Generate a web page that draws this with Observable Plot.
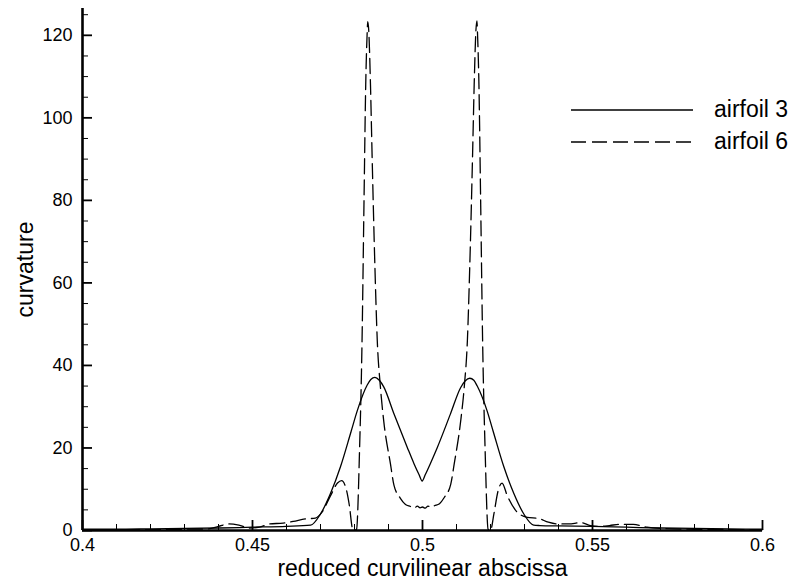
<!DOCTYPE html>
<html>
<head>
<meta charset="utf-8">
<script src="https://cdn.jsdelivr.net/npm/d3@7"></script>
<script src="https://cdn.jsdelivr.net/npm/@observablehq/plot@0.6"></script>
<style>
  html, body { margin: 0; padding: 0; background: #fff; }
  #wrap { position: relative; width: 804px; height: 585px; font-family: "Liberation Sans", Arial, sans-serif; }
  #legend { position: absolute; left: 571px; top: 96px; font-size: 23px; color: #000; }
  .row { position: relative; height: 32px; }
  .row svg { position: absolute; left: 0; top: 0; }
  .row span { position: absolute; left: 143px; top: 0px; line-height: 27px; white-space: nowrap; }
</style>
</head>
<body>
<div id="wrap">
  <div id="chart"></div>
  <div id="legend"></div>
</div>
<script>
// ---- data ----
const seriesNames = ["airfoil 3", "airfoil 6"];

const xAirfoil3 = [0.400, 0.410, 0.420, 0.430, 0.440, 0.450, 0.460, 0.4671, 0.4700, 0.4729, 0.4759, 0.4790, 0.4808, 0.4837, 0.4848, 0.4860, 0.4873, 0.4886, 0.4916, 0.4955, 0.4975, 0.4990, 0.4999, 0.5008, 0.5023, 0.5043, 0.5082, 0.5112, 0.5126, 0.5139, 0.5151, 0.5161, 0.5190, 0.5208, 0.5239, 0.5269, 0.5298, 0.5327, 0.5345, 0.540, 0.550, 0.560, 0.570, 0.580, 0.590, 0.600];
const yAirfoil3 = [0.3, 0.3, 0.4, 0.5, 0.6, 0.8, 1.0, 1.3, 4.0, 8.9, 15.5, 24.0, 29.0, 35.2, 36.6, 37.1, 36.4, 34.8, 28.3, 20.2, 16.2, 13.5, 12.0, 13.5, 16.2, 20.0, 28.2, 34.6, 36.3, 36.9, 36.4, 35.0, 29.0, 24.0, 15.5, 8.9, 4.0, 1.3, 1.2, 1.1, 1.0, 0.8, 0.6, 0.5, 0.4, 0.3];

const xAirfoil6 = [0.400, 0.415, 0.430, 0.437, 0.440, 0.443, 0.446, 0.449, 0.452, 0.455, 0.459, 0.462, 0.4655, 0.4685, 0.4705, 0.4730, 0.4750, 0.4762, 0.4774, 0.4785, 0.4794, 0.4800, 0.4806, 0.4815, 0.4822, 0.4828, 0.4833, 0.4837, 0.4839, 0.4842, 0.4847, 0.4852, 0.4860, 0.4867, 0.4876, 0.4886, 0.4906, 0.4916, 0.4935, 0.4950, 0.4965, 0.4975, 0.4985, 0.4993, 0.5000, 0.5008, 0.5016, 0.5025, 0.5035, 0.5050, 0.5064, 0.5083, 0.5093, 0.5113, 0.5123, 0.5132, 0.5139, 0.5147, 0.5152, 0.5157, 0.5160, 0.5162, 0.5166, 0.5171, 0.5177, 0.5184, 0.5193, 0.5200, 0.5210, 0.5222, 0.5234, 0.5249, 0.5279, 0.5308, 0.5342, 0.5370, 0.5396, 0.5430, 0.5465, 0.5494, 0.552, 0.555, 0.558, 0.562, 0.566, 0.570, 0.580, 0.600];
const yAirfoil6 = [0.2, 0.2, 0.3, 0.4, 1.0, 1.6, 1.3, 0.6, 0.8, 1.6, 1.8, 2.2, 2.8, 3.0, 4.5, 8.5, 11.5, 12.1, 10.5, 6.0, 0.5, 0.0, 0.3, 20, 45, 80, 108, 120, 123.3, 121, 108, 90, 64, 46, 35, 26.5, 16, 11, 7.8, 6.3, 5.8, 5.4, 5.9, 5.5, 5.7, 5.4, 5.9, 5.6, 6.0, 6.5, 8.0, 11.2, 16, 27, 35, 46, 64, 90, 108, 121, 123.5, 120, 108, 80, 45, 20, 0.3, 0.0, 4.0, 9.5, 11.5, 8.5, 4.4, 3.2, 2.9, 2.0, 1.6, 1.6, 1.9, 1.2, 1.0, 1.2, 1.5, 1.5, 0.8, 0.5, 0.3, 0.2];

const xTicks = [0.4, 0.45, 0.5, 0.55, 0.6];
const xMinorTicks = [0.41, 0.42, 0.43, 0.44, 0.46, 0.47, 0.48, 0.49, 0.51, 0.52, 0.53, 0.54, 0.56, 0.57, 0.58, 0.59];
const yTicks = [0, 20, 40, 60, 80, 100, 120];
const yMinorTicks = [5, 10, 15, 25, 30, 35, 45, 50, 55, 65, 70, 75, 85, 90, 95, 105, 110, 115, 125];
const xTitle = "reduced curvilinear abscissa";
const yTitle = "curvature";

// ---- build tables ----
const a3 = xAirfoil3.map((x, i) => ({x, y: yAirfoil3[i]}));
const a6 = xAirfoil6.map((x, i) => ({x, y: yAirfoil6[i]}));
const dash = "15,6";

const chart = Plot.plot({
  width: 804,
  height: 585,
  marginLeft: 82,
  marginRight: 42,
  marginTop: 8,
  marginBottom: 55,
  style: {fontFamily: "'Liberation Sans', Arial, sans-serif", fontSize: "18px", color: "#000", background: "#fff"},
  x: {domain: [0.4, 0.6]},
  y: {domain: [0, 126.5]},
  marks: [
    Plot.line(a3, {x: "x", y: "y", stroke: "#000", strokeWidth: 1.3, curve: "monotone-x"}),
    Plot.line(a6, {x: "x", y: "y", stroke: "#000", strokeWidth: 1.3, strokeDasharray: dash, curve: "monotone-x"}),
    // inward ticks
    Plot.axisX({ticks: xTicks, tickSize: -10, strokeWidth: 1.8, tickFormat: () => "", label: null}),
    Plot.axisX({ticks: xMinorTicks, tickSize: -6, strokeWidth: 1, tickFormat: () => "", label: null}),
    Plot.axisY({ticks: yTicks, tickSize: -10, strokeWidth: 1.8, tickFormat: () => "", label: null}),
    Plot.axisY({ticks: yMinorTicks, tickSize: -6, strokeWidth: 1, tickFormat: () => "", label: null}),
    // labels
    Plot.axisX({ticks: xTicks, tickSize: 0, tickPadding: 8, fontSize: 18, tickFormat: d => String(+d.toFixed(2)), label: null}),
    Plot.axisY({ticks: yTicks, tickSize: 0, tickPadding: 10, fontSize: 18, label: null}),
    // axis lines
    Plot.ruleY([0], {stroke: "#000", strokeWidth: 2.6}),
    Plot.ruleX([0.4], {stroke: "#000", strokeWidth: 2.6}),
    // titles
    Plot.text([xTitle], {text: d => d, frameAnchor: "bottom", dy: 45, fontSize: 23}),
    Plot.text([yTitle], {text: d => d, frameAnchor: "left", textAnchor: "middle", lineAnchor: "middle", dx: -57, rotate: -90, fontSize: 23})
  ]
});
document.getElementById("chart").appendChild(chart);

// ---- legend ----
const legend = document.getElementById("legend");
seriesNames.forEach((name, i) => {
  const row = document.createElement("div");
  row.className = "row";
  row.innerHTML = `<svg width="124" height="28"><line x1="0" x2="122" y1="14" y2="14" stroke="#000" stroke-width="1.3" ${i === 1 ? `stroke-dasharray="${dash}"` : ""}/></svg><span>${name}</span>`;
  legend.appendChild(row);
});
</script>
</body>
</html>
